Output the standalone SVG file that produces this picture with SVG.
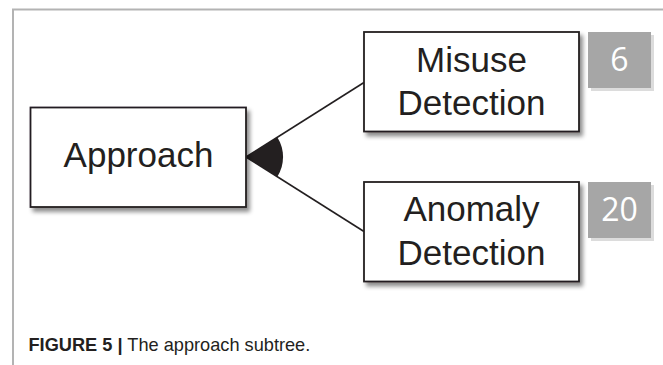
<svg xmlns="http://www.w3.org/2000/svg" width="663" height="365" viewBox="0 0 663 365">
  <style>
    .box { fill: #ffffff; stroke: #231f20; stroke-width: 1.8; }
    .lbl { font-family: "Liberation Sans", Arial, sans-serif; font-size: 35px; fill: #231f20; text-anchor: middle; }
    .num { fill: #a6a6a6; }
    .numsh { fill: #dcdcdc; }
    .numtxt { font-family: "Open Sans", "Liberation Sans", sans-serif; font-size: 32px; fill: #ffffff; text-anchor: middle; }
    .edge { stroke: #231f20; stroke-width: 1.6; fill: none; }
    .cap { font-family: "Liberation Sans", Arial, sans-serif; font-size: 18.2px; fill: #231f20; }
  </style>
  <defs>
    <filter id="shadow" x="-10%" y="-10%" width="125%" height="130%">
      <feDropShadow dx="3" dy="4" stdDeviation="2.2" flood-color="#000000" flood-opacity="0.45"/>
    </filter>
  </defs>

  <rect width="663" height="365" fill="#ffffff"/>
  <!-- outer frame (top and left edges) -->
  <path d="M13 365 V9.5 H663" fill="none" stroke="#b3b3b3" stroke-width="2"/>

  <!-- connectors: two branches with a filled AND arc at the parent -->
  <g id="connectors">
    <path class="edge" d="M246 157 L364 82.5"/>
    <path class="edge" d="M246 157 L364 231.5"/>
    <path d="M246 157 L277.3 137.2 A37 37 0 0 1 277.3 176.8 Z" fill="#231f20"/>
  </g>

  <g id="approach">
    <rect class="box" x="30.5" y="107.5" width="215.5" height="99.5" filter="url(#shadow)"/>
    <text class="lbl" x="138.5" y="167" font-size="36">Approach</text>
  </g>

  <g id="misuse">
    <rect class="box" x="364" y="32" width="215" height="99.5" filter="url(#shadow)"/>
    <text class="lbl" x="471.5" y="72">Misuse</text>
    <text class="lbl" x="471.5" y="115">Detection</text>
  </g>

  <g id="misuse-count">
    <rect class="numsh" x="591" y="35" width="63" height="56"/>
    <rect class="num" x="588" y="32" width="63" height="56"/>
    <text class="numtxt" x="619.5" y="70.5">6</text>
  </g>

  <g id="anomaly">
    <rect class="box" x="364" y="182" width="215" height="99.5" filter="url(#shadow)"/>
    <text class="lbl" x="471.5" y="221">Anomaly</text>
    <text class="lbl" x="471.5" y="265">Detection</text>
  </g>

  <g id="anomaly-count">
    <rect class="numsh" x="591" y="185" width="63" height="56"/>
    <rect class="num" x="588" y="182" width="63" height="56"/>
    <text class="numtxt" x="619.5" y="221">20</text>
  </g>

  <text class="cap" x="28.5" y="351"><tspan font-weight="bold">FIGURE 5</tspan> <tspan font-weight="bold">|</tspan> The approach subtree.</text>
</svg>
